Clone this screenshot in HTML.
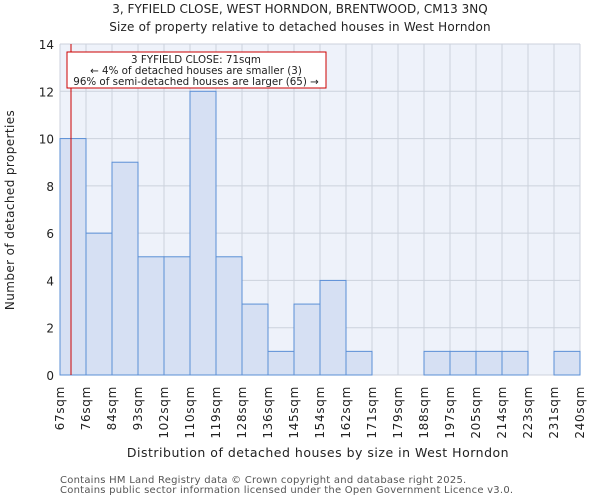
<!DOCTYPE html>
<html><head><meta charset="utf-8"><style>
body{margin:0;background:#fff;font-family:"DejaVu Sans","Liberation Sans",sans-serif;}
svg text{font-family:"DejaVu Sans","Liberation Sans",sans-serif;fill:#222;}
</style></head><body>
<svg id="chart" width="600" height="500" xmlns="http://www.w3.org/2000/svg">
<text x="300" y="13" text-anchor="middle" font-size="12" letter-spacing="0">3, FYFIELD CLOSE, WEST HORNDON, BRENTWOOD, CM13 3NQ</text>
<text x="300" y="31" text-anchor="middle" font-size="12" letter-spacing="0.2">Size of property relative to detached houses in West Horndon</text>
<rect x="60" y="44" width="520" height="331" fill="#eef2fa"/>
<g id="grid"></g><g id="bars"></g><g id="axes"></g>
<text transform="translate(14,210) rotate(-90)" text-anchor="middle" font-size="12" letter-spacing="0.4">Number of detached properties</text>
<text x="318" y="457" text-anchor="middle" font-size="12.5" letter-spacing="0.5">Distribution of detached houses by size in West Horndon</text>
<text x="60" y="483" font-size="10" letter-spacing="0.24" style="fill:#555">Contains HM Land Registry data © Crown copyright and database right 2025.</text>
<text x="60" y="493" font-size="10" letter-spacing="0.24" style="fill:#555">Contains public sector information licensed under the Open Government Licence v3.0.</text>
<line x1="71" y1="44" x2="71" y2="375" stroke="#cc0000" stroke-width="1"/>
<g>
<rect x="67" y="52" width="259" height="36" fill="#fff" stroke="#cc0000" stroke-width="1"/>
<text x="196" y="63" text-anchor="middle" font-size="10.3">3 FYFIELD CLOSE: 71sqm</text>
<text x="196" y="74" text-anchor="middle" font-size="10.3">← 4% of detached houses are smaller (3)</text>
<text x="196" y="85" text-anchor="middle" font-size="10.3">96% of semi-detached houses are larger (65) →</text>
</g>
</svg>
<script>
const labels=["67sqm","76sqm","84sqm","93sqm","102sqm","110sqm","119sqm","128sqm","136sqm","145sqm","154sqm","162sqm","171sqm","179sqm","188sqm","197sqm","205sqm","214sqm","223sqm","231sqm","240sqm"];
const counts=[10,6,9,5,5,12,5,3,1,3,4,1,0,0,1,1,1,1,0,1];
const yTicks=[0,2,4,6,8,10,12,14];
const NS="http://www.w3.org/2000/svg";
const X0=60,X1=580,Y0=375,Y1=44,YMAX=14;
const bw=(X1-X0)/counts.length;
const xs=i=>X0+i*bw;
const ys=v=>Y0-(v/YMAX)*(Y0-Y1);
function mk(t,a,p){const e=document.createElementNS(NS,t);for(const k in a)e.setAttribute(k,a[k]);p.appendChild(e);return e;}
const grid=document.getElementById('grid'),bars=document.getElementById('bars'),axes=document.getElementById('axes');
for(let i=0;i<=counts.length;i++){const l=mk('line',{x1:xs(i),x2:xs(i),y1:Y1,y2:Y0,stroke:'#ccd2dc','stroke-width':1},grid);

}
yTicks.forEach(v=>{const l=mk('line',{x1:X0,x2:X1,y1:ys(v),y2:ys(v),stroke:'#ccd2dc','stroke-width':1},grid);


const t=mk('text',{x:X0-6,y:ys(v)+5,'text-anchor':'end','font-size':12},axes);t.textContent=v;

});
counts.forEach((c,i)=>{if(c<=0)return;const r=mk('rect',{x:xs(i),y:ys(c),width:bw,height:Y0-ys(c),fill:'#d6e0f3',stroke:'#5b8fd6','stroke-width':1},bars);

});
labels.forEach((s,i)=>{const x=xs(i);const t=mk('text',{transform:`translate(${x+4},${Y0+11}) rotate(-90)`,'text-anchor':'end','font-size':12,'letter-spacing':0.7},axes);t.textContent=s;

});
</script>
</body></html>
